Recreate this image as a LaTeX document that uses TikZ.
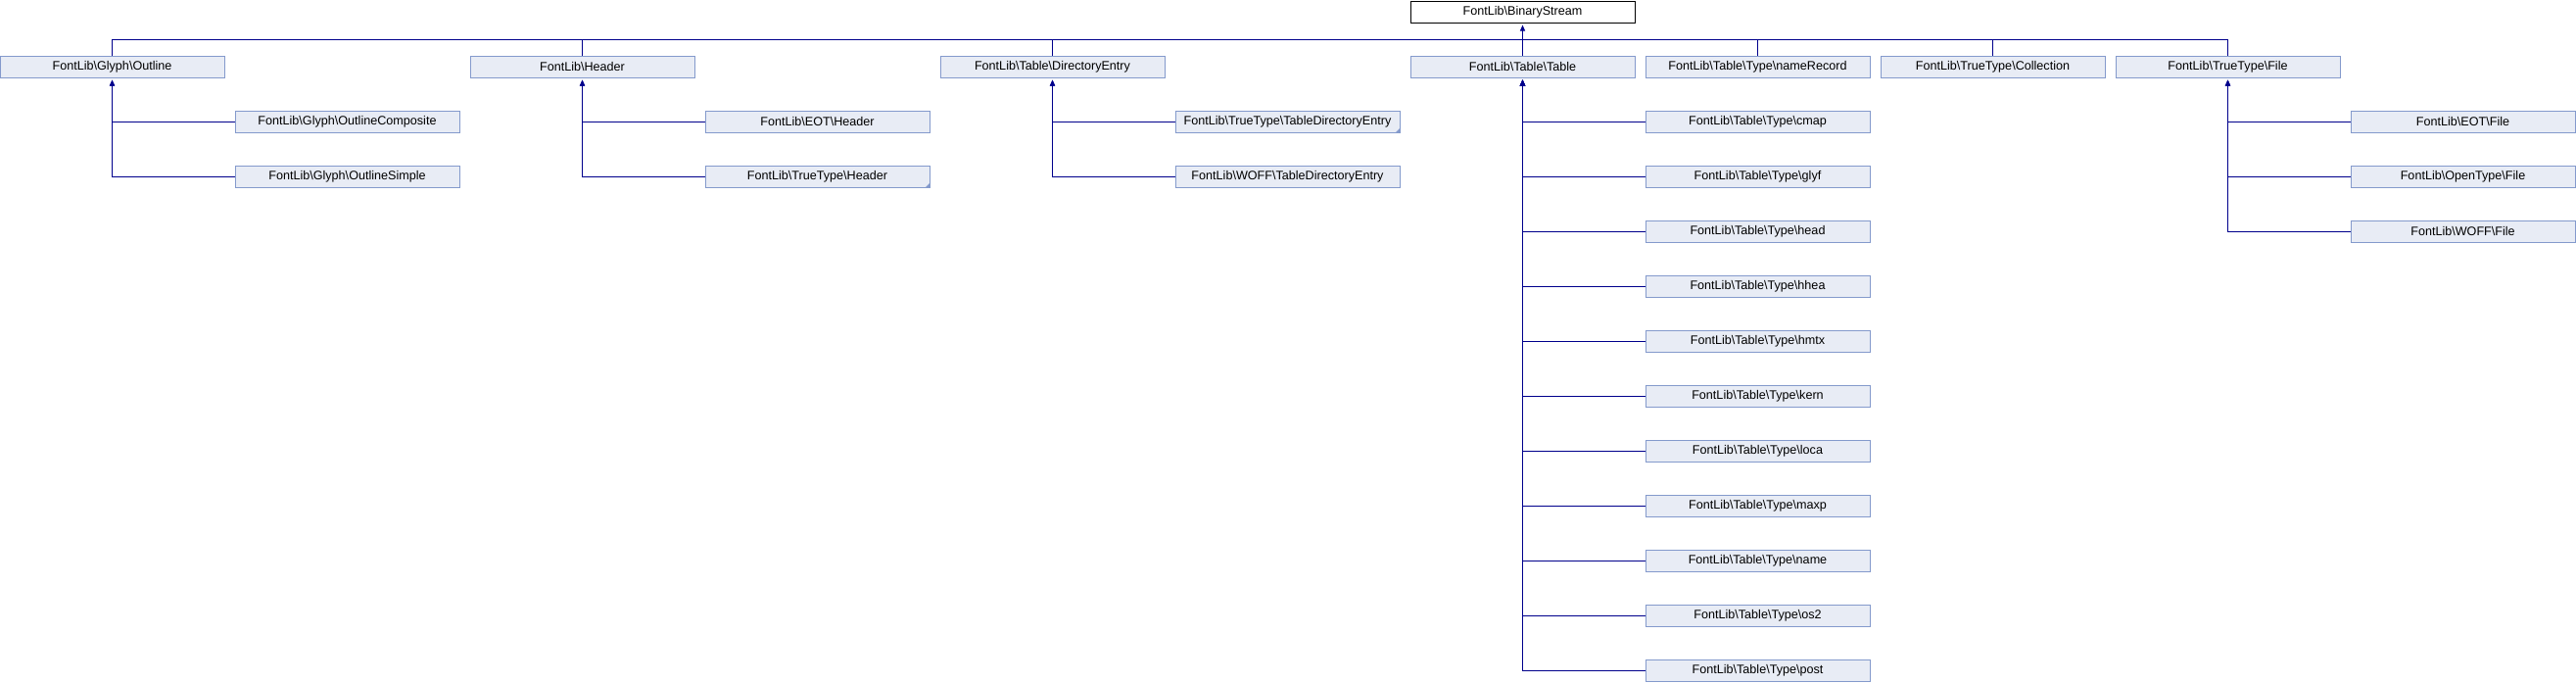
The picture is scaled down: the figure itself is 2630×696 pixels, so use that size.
\documentclass[tikz,border=0pt]{standalone}
\usepackage{fontspec}
\setmainfont{Liberation Sans}
\usetikzlibrary{arrows.meta}
\definecolor{boxfill}{RGB}{232,236,245}
\definecolor{boxline}{RGB}{132,154,204}
\definecolor{conncol}{RGB}{0,0,140}
\newcommand\bsl{\textbackslash}
\begin{document}
\begin{tikzpicture}[x=1pt,y=-1pt,
  cls/.style={draw=boxline, fill=boxfill, line width=1pt, minimum width=229pt, minimum height=22pt, inner sep=0pt, font=\fontsize{12.6}{15}\selectfont},
  rootcls/.style={cls, draw=black, fill=white},
  conn/.style={draw=conncol, line width=1pt},
  inh/.style={conn, -{Triangle[width=5pt,length=6pt]}, shorten >=2pt},
  more/.style={fill=boxline}]
\useasboundingbox (0,0) rectangle (2630,696);
% root
\node[rootcls] (bs) at (1554.5,12) {FontLib\bsl BinaryStream};
% level 1
\node[cls] (outline) at (114.5,68) {FontLib\bsl Glyph\bsl Outline};
\node[cls] (header) at (594.5,68) {FontLib\bsl Header};
\node[cls] (direntry) at (1074.5,68) {FontLib\bsl Table\bsl DirectoryEntry};
\node[cls] (table) at (1554.5,68) {FontLib\bsl Table\bsl Table};
\node[cls] (namerec) at (1794.5,68) {FontLib\bsl Table\bsl Type\bsl nameRecord};
\node[cls] (collection) at (2034.5,68) {FontLib\bsl TrueType\bsl Collection};
\node[cls] (ttfile) at (2274.5,68) {FontLib\bsl TrueType\bsl File};
% outline children
\node[cls] (ocomp) at (354.5,124) {FontLib\bsl Glyph\bsl OutlineComposite};
\node[cls] (osimple) at (354.5,180) {FontLib\bsl Glyph\bsl OutlineSimple};
% header children
\node[cls] (eothdr) at (834.5,124) {FontLib\bsl EOT\bsl Header};
\node[cls] (tthdr) at (834.5,180) {FontLib\bsl TrueType\bsl Header};
% direntry children
\node[cls] (ttde) at (1314.5,124) {FontLib\bsl TrueType\bsl TableDirectoryEntry};
\node[cls] (woffde) at (1314.5,180) {FontLib\bsl WOFF\bsl TableDirectoryEntry};
% table children
\node[cls] (cmap) at (1794.5,124) {FontLib\bsl Table\bsl Type\bsl cmap};
\node[cls] (glyf) at (1794.5,180) {FontLib\bsl Table\bsl Type\bsl glyf};
\node[cls] (head) at (1794.5,236) {FontLib\bsl Table\bsl Type\bsl head};
\node[cls] (hhea) at (1794.5,292) {FontLib\bsl Table\bsl Type\bsl hhea};
\node[cls] (hmtx) at (1794.5,348) {FontLib\bsl Table\bsl Type\bsl hmtx};
\node[cls] (kern) at (1794.5,404) {FontLib\bsl Table\bsl Type\bsl kern};
\node[cls] (loca) at (1794.5,460) {FontLib\bsl Table\bsl Type\bsl loca};
\node[cls] (maxp) at (1794.5,516) {FontLib\bsl Table\bsl Type\bsl maxp};
\node[cls] (name) at (1794.5,572) {FontLib\bsl Table\bsl Type\bsl name};
\node[cls] (ostwo) at (1794.5,628) {FontLib\bsl Table\bsl Type\bsl os2};
\node[cls] (post) at (1794.5,684) {FontLib\bsl Table\bsl Type\bsl post};
% truetype file children
\node[cls] (eotfile) at (2514.5,124) {FontLib\bsl EOT\bsl File};
\node[cls] (otfile) at (2514.5,180) {FontLib\bsl OpenType\bsl File};
\node[cls] (wofffile) at (2514.5,236) {FontLib\bsl WOFF\bsl File};
% "more" corner marks
\fill[more] (tthdr.south east) -- ++(-5,0) -- ++(5,-5) -- cycle;
\fill[more] (ttde.south east) -- ++(-5,0) -- ++(5,-5) -- cycle;
% bus to root
\coordinate (bus) at (0,40);
\draw[conn] (outline.north) |- (bus -| ttfile.north) -- (ttfile.north);
\draw[conn] (header.north) -- (header.north |- bus);
\draw[conn] (direntry.north) -- (direntry.north |- bus);
\draw[conn] (namerec.north) -- (namerec.north |- bus);
\draw[conn] (collection.north) -- (collection.north |- bus);
\draw[inh] (table.north) -- (bs.south);
% children connectors
\foreach \c in {ocomp,osimple} \draw[inh] (\c.west) -| (outline.south);
\foreach \c in {eothdr,tthdr} \draw[inh] (\c.west) -| (header.south);
\foreach \c in {ttde,woffde} \draw[inh] (\c.west) -| (direntry.south);
\foreach \c in {cmap,glyf,head,hhea,hmtx,kern,loca,maxp,name,ostwo,post} \draw[inh] (\c.west) -| (table.south);
\foreach \c in {eotfile,otfile,wofffile} \draw[inh] (\c.west) -| (ttfile.south);
\end{tikzpicture}
\end{document}
